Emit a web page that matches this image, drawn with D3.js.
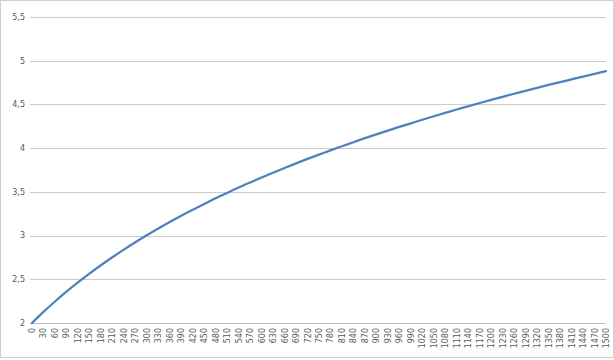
<!DOCTYPE html>
<html>
<head>
<meta charset="utf-8">
<script src="https://cdn.jsdelivr.net/npm/d3@7"></script>
<style>
  body { margin: 0; background: #fff; }
  svg { display: block; font-family: "DejaVu Sans", sans-serif; }
  .tick-label { fill: #595959; font-size: 8px; }
</style>
</head>
<body>
<div id="chart"></div>
<script>
const width = 614, height = 360;
const margin = { top: 17, right: 8, bottom: 36, left: 31 };

// x categories (every 30 units) and the series
const categories = d3.range(0, 1501, 30);
const values = [
  2.000, 2.127, 2.246, 2.358, 2.464, 2.565, 2.661, 2.752, 2.839, 2.923,
  3.003, 3.080, 3.154, 3.226, 3.295, 3.361, 3.426, 3.488, 3.549, 3.607,
  3.664, 3.719, 3.773, 3.826, 3.877, 3.926, 3.975, 4.022, 4.068, 4.114,
  4.158, 4.201, 4.243, 4.284, 4.325, 4.365, 4.404, 4.442, 4.479, 4.516,
  4.552, 4.587, 4.622, 4.656, 4.690, 4.723, 4.755, 4.787, 4.819, 4.849,
  4.880
];
const yTicks = [2, 2.5, 3, 3.5, 4, 4.5, 5, 5.5];

const svg = d3.select('#chart').append('svg')
  .attr('width', width)
  .attr('height', height);

// outer chart border
svg.append('rect')
  .attr('x', 0.5).attr('y', 0.5)
  .attr('width', width - 1).attr('height', height - 3)
  .attr('fill', '#fff')
  .attr('stroke', '#d0d0d0');

const x = d3.scalePoint()
  .domain(categories)
  .range([margin.left + 1, width - margin.right]);

const y = d3.scaleLinear()
  .domain([2, 5.5])
  .range([height - margin.bottom - 1, margin.top]);

const fmt = d => String(d).replace('.', ',');

// horizontal gridlines
svg.append('g')
  .selectAll('line')
  .data(yTicks.slice(1))
  .enter()
  .append('line')
  .attr('x1', margin.left - 1)
  .attr('x2', width - margin.right)
  .attr('y1', d => Math.round(y(d)) + 0.5)
  .attr('y2', d => Math.round(y(d)) + 0.5)
  .attr('stroke', '#cccccc')
  .attr('stroke-width', 1);

// y labels
svg.append('g')
  .selectAll('text')
  .data(yTicks)
  .enter()
  .append('text')
  .attr('class', 'tick-label')
  .attr('x', margin.left - 6)
  .attr('y', d => y(d))
  .attr('dy', '0.35em')
  .attr('text-anchor', 'end')
  .text(fmt);

// category axis line
svg.append('line')
  .attr('x1', margin.left - 1)
  .attr('x2', width - margin.right)
  .attr('y1', Math.round(y(2)) + 0.5)
  .attr('y2', Math.round(y(2)) + 0.5)
  .attr('stroke', '#bfbfbf');

// x labels, rotated
svg.append('g')
  .selectAll('text')
  .data(categories)
  .enter()
  .append('text')
  .attr('class', 'tick-label')
  .attr('transform', d => 'translate(' + (x(d) + 3) + ',' + (y(2) + 5) + ') rotate(-90)')
  .attr('text-anchor', 'end')
  .text(d => d);

// the series
const line = d3.line()
  .x((d, i) => x(categories[i]))
  .y(d => y(d))
  .curve(d3.curveMonotoneX);

svg.append('path')
  .datum(values)
  .attr('d', line)
  .attr('fill', 'none')
  .attr('stroke', '#4f81bd')
  .attr('stroke-width', 2.25)
  .attr('stroke-linecap', 'round');
</script>
</body>
</html>
